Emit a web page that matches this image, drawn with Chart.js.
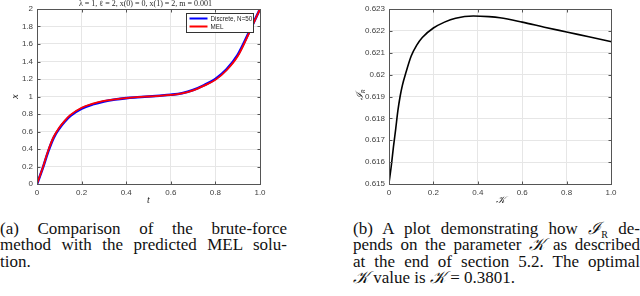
<!DOCTYPE html>
<html>
<head>
<meta charset="utf-8">
<script src="https://cdn.jsdelivr.net/npm/chart.js@4.4.0/dist/chart.umd.min.js"></script>
<style>
  body { margin: 0; background: #fff; width: 640px; height: 296px; overflow: hidden; position: relative; }
  .plot { position: absolute; top: 0; height: 210px; }
  #leftBox { left: 0; width: 300px; }
  #rightBox { left: 320px; width: 320px; }
  .cap { position: absolute; font-family: "Liberation Serif", "DejaVu Serif", "Times New Roman", serif; font-size: 17px; line-height: 16.3px; color: #111; }
  .cap div { text-align: justify; text-align-last: justify; white-space: nowrap; }
  .cap div.last { text-align-last: left; }
  #capA { left: 0; top: 221px; width: 287px; }
  #capB { left: 353px; top: 221px; width: 287px; }
</style>
</head>
<body>
<div class="plot" id="leftBox"><canvas id="leftChart"></canvas></div>
<div class="plot" id="rightBox"><canvas id="rightChart"></canvas></div>

<div class="cap" id="capA">
  <div>(a) Comparison of the brute-force</div>
  <div>method with the predicted MEL solu-</div>
  <div class="last">tion.</div>
</div>
<div class="cap" id="capB">
  <div>(b) A plot demonstrating how <i>ℐ</i><sub style="font-size:10px;line-height:0">R</sub> de-</div>
  <div>pends on the parameter <i>𝒦</i> as described</div>
  <div>at the end of section 5.2. The optimal</div>
  <div class="last"><i>𝒦</i> value is <i>𝒦</i> = 0.3801.</div>
</div>

<script>
// (a) brute force vs MEL
var tValues   = [0, 0.025, 0.05, 0.075, 0.1, 0.125, 0.15, 0.2, 0.25, 0.3, 0.35, 0.4, 0.45, 0.5, 0.55, 0.6, 0.65, 0.7, 0.75, 0.8, 0.85, 0.9, 0.95, 1];
var discreteX = [0, 0.175, 0.37, 0.53, 0.635, 0.715, 0.78, 0.862, 0.91, 0.944, 0.966, 0.981, 0.991, 1.0, 1.009, 1.02, 1.038, 1.074, 1.13, 1.2, 1.31, 1.475, 1.73, 2.0];
var melX      = [0, 0.18, 0.38, 0.54, 0.645, 0.725, 0.79, 0.872, 0.918, 0.95, 0.968, 0.982, 0.992, 1.0, 1.008, 1.018, 1.035, 1.07, 1.125, 1.19, 1.3, 1.46, 1.72, 2.0];

// (b) I_R against K
var kValues = [0, 0.01, 0.02, 0.03, 0.04, 0.05, 0.06, 0.075, 0.1, 0.125, 0.15, 0.2, 0.25, 0.3, 0.38, 0.45, 0.5, 0.6, 0.7, 0.8, 0.9, 1];
var iRValues = [0.61505, 0.6158, 0.6167, 0.6175, 0.61835, 0.6190, 0.6195, 0.62005, 0.62085, 0.62135, 0.6217, 0.62213, 0.6224, 0.62258, 0.62268, 0.62265, 0.6226, 0.6224, 0.62217, 0.62195, 0.62173, 0.62151];

var xTicks = [0, 0.2, 0.4, 0.6, 0.8, 1];

function pts(xs, ys) {
  return xs.map(function (v, i) { return { x: v, y: ys[i] }; });
}

var tickFont = { family: '"Liberation Sans", Arial, sans-serif', size: 8 };
var tickColor = '#404040';

// matlab-ish box, inward ticks, titles and legend
var matlabAxes = {
  id: 'matlabAxes',
  afterDatasetsDraw: function (chart, args, opts) {
    var ctx = chart.ctx, a = chart.chartArea, sx = chart.scales.x, sy = chart.scales.y;
    var L = Math.round(a.left) + 0.5, R = Math.round(a.right) + 0.5;
    var T = Math.round(a.top) + 0.5, B = Math.round(a.bottom) + 0.5;
    ctx.save();
    ctx.strokeStyle = '#555';
    ctx.lineWidth = 1;
    ctx.strokeRect(L, T, R - L, B - T);
    ctx.beginPath();
    sx.ticks.forEach(function (t) {
      var p = Math.round(sx.getPixelForValue(t.value)) + 0.5;
      ctx.moveTo(p, B); ctx.lineTo(p, B - 3);
      ctx.moveTo(p, T); ctx.lineTo(p, T + 3);
    });
    sy.ticks.forEach(function (t) {
      var p = Math.round(sy.getPixelForValue(t.value)) + 0.5;
      ctx.moveTo(L, p); ctx.lineTo(L + 3, p);
      ctx.moveTo(R, p); ctx.lineTo(R - 3, p);
    });
    ctx.stroke();

    ctx.fillStyle = '#262626';
    ctx.textAlign = 'center';
    ctx.textBaseline = 'middle';
    if (opts.title) {
      ctx.font = '8px "Liberation Serif", "DejaVu Serif", serif';
      ctx.fillText(opts.title, (a.left + a.right) / 2 - 3, 4);
    }
    ctx.font = 'italic 10px "Liberation Serif", "DejaVu Serif", serif';
    ctx.fillText(opts.xLabel, (a.left + a.right) / 2, a.bottom + 16);
    ctx.save();
    ctx.translate(opts.yLabelX, (a.top + a.bottom) / 2);
    ctx.rotate(-Math.PI / 2);
    ctx.fillText(opts.yLabel, 0, 0);
    if (opts.yLabelSub) {
      ctx.font = 'italic 6px "Liberation Serif", "DejaVu Serif", serif';
      ctx.fillText(opts.yLabelSub, 5, 3);
    }
    ctx.restore();

    if (opts.legend) {
      var bx = a.right - 73.5, by = a.top + 4.5, bw = 67, bh = 19;
      ctx.fillStyle = '#fff';
      ctx.fillRect(bx, by, bw, bh);
      ctx.strokeStyle = '#333';
      ctx.strokeRect(bx, by, bw, bh);
      ctx.font = '6.3px "Liberation Sans", Arial, sans-serif';
      ctx.textAlign = 'left';
      chart.data.datasets.forEach(function (ds, i) {
        var yy = by + 5 + i * 8;
        ctx.strokeStyle = ds.borderColor;
        ctx.lineWidth = 2;
        ctx.beginPath();
        ctx.moveTo(bx + 3, yy); ctx.lineTo(bx + 21, yy);
        ctx.stroke();
        ctx.fillStyle = '#262626';
        ctx.fillText(ds.label, bx + 24, yy + 0.5);
      });
    }
    ctx.restore();
  }
};

function axes(min, max, step, width, fmt) {
  return {
    x: {
      type: 'linear', min: 0, max: 1,
      afterBuildTicks: function (s) { s.ticks = xTicks.map(function (v) { return { value: v }; }); },
      afterFit: function (s) { s.height = 26; },
      grid: { color: '#e6e6e6', drawTicks: false },
      border: { display: false },
      ticks: { font: tickFont, color: tickColor, padding: 4, maxRotation: 0 }
    },
    y: {
      type: 'linear', min: min, max: max,
      afterFit: function (s) { s.width = width; },
      grid: { color: '#e6e6e6', drawTicks: false },
      border: { display: false },
      ticks: { stepSize: step, font: tickFont, color: tickColor, padding: 4, callback: fmt }
    }
  };
}

new Chart(document.getElementById('leftChart'), {
  type: 'scatter',
  data: {
    datasets: [
      { label: 'Discrete, N=50', order: 2, data: pts(tValues, discreteX), showLine: true, borderColor: '#0000ff', borderWidth: 2.6, pointRadius: 0, cubicInterpolationMode: 'monotone' },
      { label: 'MEL', order: 1, data: pts(tValues, melX), showLine: true, borderColor: '#ff0000', borderWidth: 1.8, pointRadius: 0, cubicInterpolationMode: 'monotone' }
    ]
  },
  options: {
    responsive: true, maintainAspectRatio: false, animation: false,
    layout: { padding: { top: 9, right: 40, left: 0, bottom: 0 } },
    scales: axes(0, 2, 0.2, 37, function (v) { return String(Number(v.toFixed(1))); }),
    plugins: {
      legend: { display: false }, tooltip: { enabled: false },
      matlabAxes: { title: 'λ = 1, ℓ = 2, x(0) = 0, x(1) = 2, m = 0.001', xLabel: 't', yLabel: 'x', yLabelX: 15, legend: true }
    }
  },
  plugins: [matlabAxes]
});

new Chart(document.getElementById('rightChart'), {
  type: 'scatter',
  data: {
    datasets: [
      { label: 'I_R', data: pts(kValues, iRValues), showLine: true, borderColor: '#000', borderWidth: 1.6, pointRadius: 0, cubicInterpolationMode: 'monotone' }
    ]
  },
  options: {
    responsive: true, maintainAspectRatio: false, animation: false,
    layout: { padding: { top: 9, right: 29, left: 0, bottom: 0 } },
    scales: axes(0.615, 0.623, 0.001, 69, function (v) { return String(Number(v.toFixed(3))); }),
    plugins: {
      legend: { display: false }, tooltip: { enabled: false },
      matlabAxes: { xLabel: '𝒦', yLabel: 'ℐ', yLabelSub: 'R', yLabelX: 40 }
    }
  },
  plugins: [matlabAxes]
});
</script>
</body>
</html>
